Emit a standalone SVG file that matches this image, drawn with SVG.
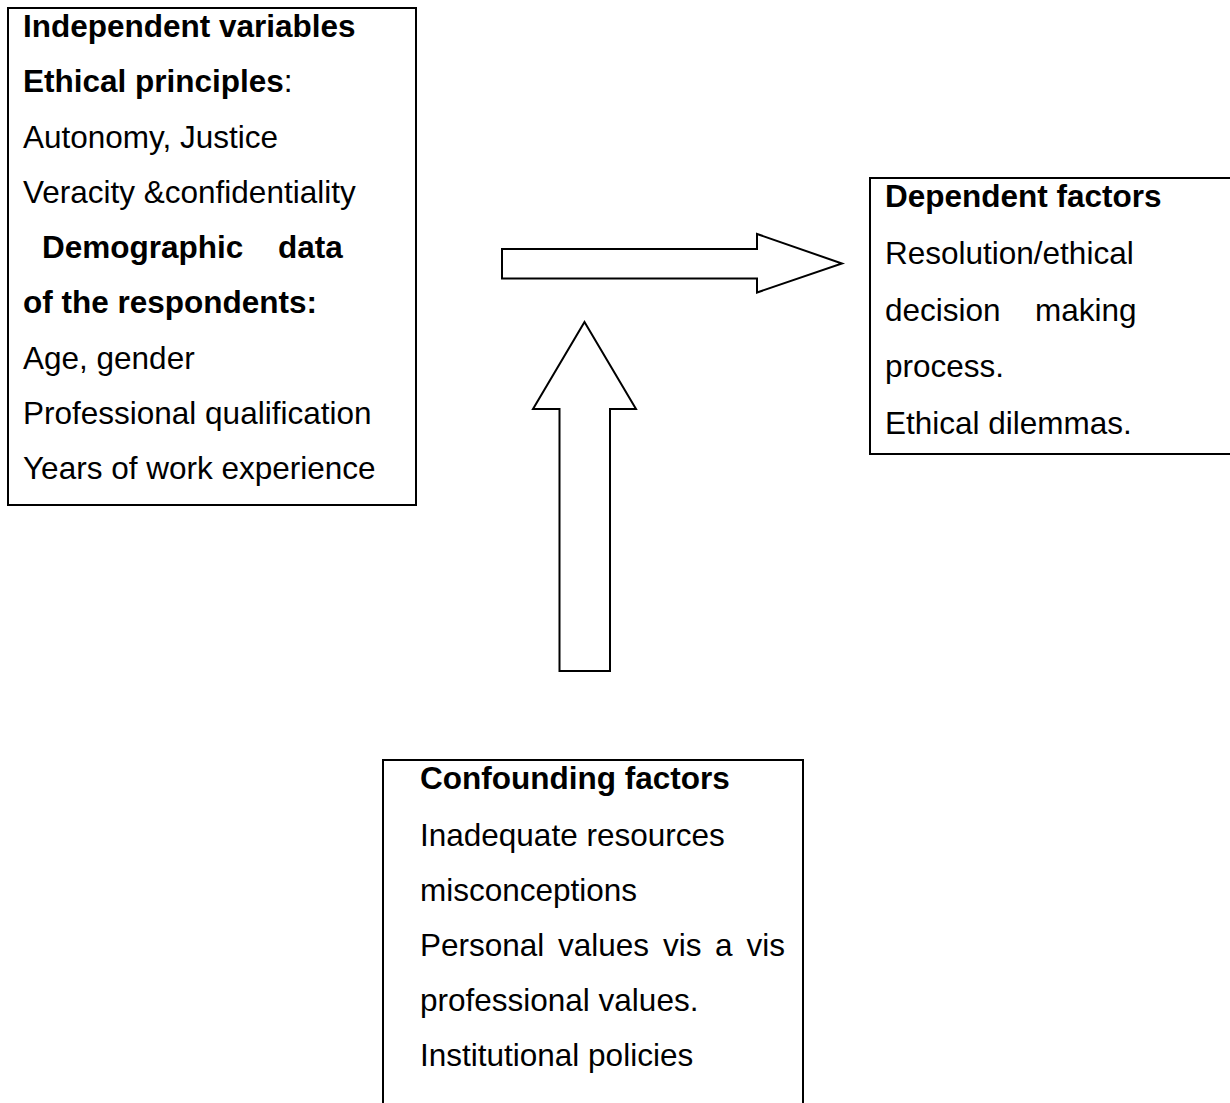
<svg xmlns="http://www.w3.org/2000/svg" width="1230" height="1103" viewBox="0 0 1230 1103">
<style>
.box{fill:#fff;stroke:#000;stroke-width:2}
.arr{fill:#fff;stroke:#000;stroke-width:2;stroke-linejoin:miter}
text{font-family:"Liberation Sans",Arial,sans-serif;font-size:31.5px;fill:#000}
.b{font-weight:bold}
</style>
<rect width="1230" height="1103" fill="#fff"/>
<g id="independent">
<rect class="box" x="8" y="8" width="408" height="497"/>
<text class="b" x="23" y="37">Independent variables</text>
<text x="23" y="92"><tspan class="b">Ethical principles</tspan>:</text>
<text x="23" y="147.5">Autonomy, Justice</text>
<text x="23" y="203">Veracity &amp;confidentiality</text>
<text class="b" x="42" y="258">Demographic</text>
<text class="b" x="278" y="258">data</text>
<text class="b" x="23" y="313">of the respondents:</text>
<text x="23" y="368.5">Age, gender</text>
<text x="23" y="424">Professional qualification</text>
<text x="23" y="479">Years of work experience</text>
</g>
<g id="dependent">
<rect class="box" x="870" y="178" width="380" height="276"/>
<text class="b" x="885" y="207">Dependent factors</text>
<text x="885" y="264">Resolution/ethical</text>
<text x="885" y="321">decision</text>
<text x="1035" y="321">making</text>
<text x="885" y="377">process.</text>
<text x="885" y="434">Ethical dilemmas.</text>
</g>
<g id="confounding">
<rect class="box" x="383" y="760" width="420" height="360"/>
<text class="b" x="420" y="789">Confounding factors</text>
<text x="420" y="846">Inadequate resources</text>
<text x="420" y="901">misconceptions</text>
<text x="420" y="956">Personal</text>
<text x="558" y="956">values</text>
<text x="663" y="956">vis</text>
<text x="715" y="956">a</text>
<text x="746.5" y="956">vis</text>
<text x="420" y="1011">professional values.</text>
<text x="420" y="1066">Institutional policies</text>
</g>
<g id="connectors">
<path class="arr" d="M502,249 L757,249 L757,234 L842,263.5 L757,292.5 L757,278.5 L502,278.5 Z"/>
<path class="arr" d="M584.5,322 L636,409 L610,409 L610,671 L559.5,671 L559.5,409 L533,409 Z"/>
</g>
</svg>
